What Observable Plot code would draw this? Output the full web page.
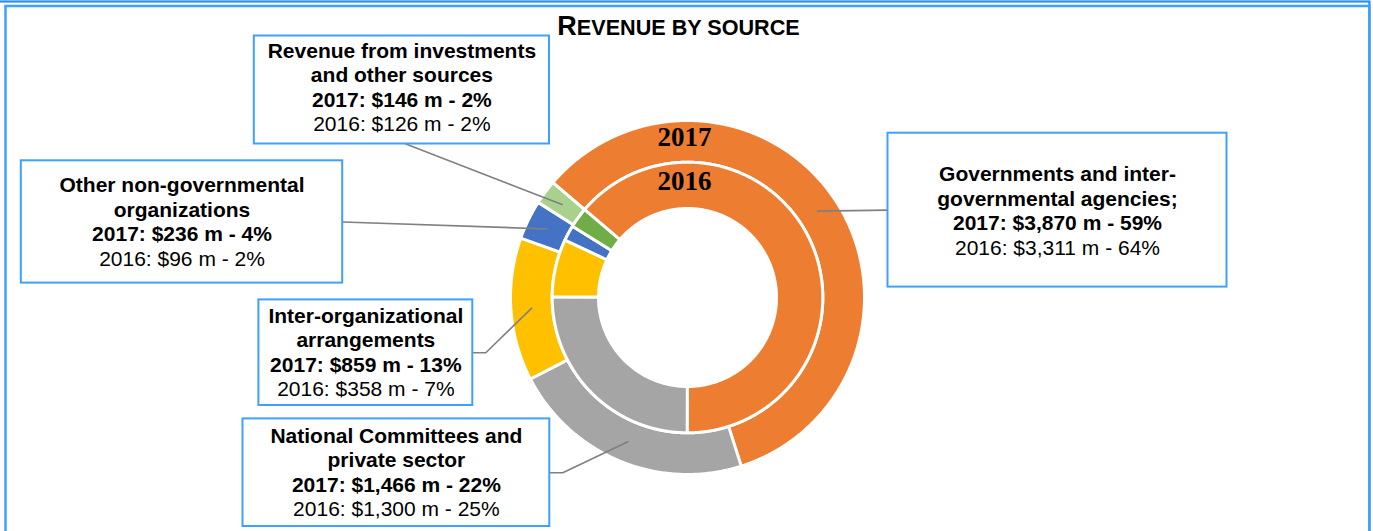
<!DOCTYPE html>
<html>
<head>
<meta charset="utf-8">
<script src="https://cdn.jsdelivr.net/npm/d3@7"></script>
<script src="https://cdn.jsdelivr.net/npm/@observablehq/plot@0.6"></script>
<style>
  body { margin: 0; background: #fff; }
  #wrap { position: relative; width: 1373px; height: 531px; overflow: hidden; }
  #wrap svg { display: block; }
  #title { position: absolute; top: 13px; left: 678.5px; transform: translateX(-50%);
    white-space: nowrap; font-family: "Liberation Sans", Arial, sans-serif; font-weight: bold;
    line-height: 1; color: #000; }
  #title .big { font-size: 27px; }
  #title .sc { font-size: 21.6px; }
</style>
</head>
<body>
<div id="wrap">
  <div id="title"><span class="big">R</span><span class="sc">EVENUE BY SOURCE</span></div>
</div>
<script>
// ---------- DATA ----------
const sources = [
  "Governments and inter-governmental agencies",
  "National Committees and private sector",
  "Inter-organizational arrangements",
  "Other non-governmental organizations",
  "Revenue from investments and other sources"
];
const labelTitles = [
  ["Governments and inter-", "governmental agencies;"],
  ["National Committees and", "private sector"],
  ["Inter-organizational", "arrangements"],
  ["Other non-governmental", "organizations"],
  ["Revenue from investments", "and other sources"]
];
const revenue2017 = [3870, 1466, 859, 236, 146];   // $ millions
const revenue2016 = [3311, 1300, 358, 96, 126];    // $ millions
const pct2017 = [59, 22, 13, 4, 2];
const pct2016 = [64, 25, 7, 2, 2];
const years = ["2017", "2016"];
const colors2017 = ["#ED7D31", "#A5A5A5", "#FFC000", "#4472C4", "#A9D18E"];
const colors2016 = ["#ED7D31", "#A5A5A5", "#FFC000", "#4472C4", "#70AD47"];

// ---------- LAYOUT ----------
const W = 1373, H = 531;
const cx = 687, cy = 297;
const firstSliceAngle = -49.5; // degrees, clockwise from 12 o'clock
const ringRadii = { "2017": [135.3, 177], "2016": [89, 135.3] };
const boxes = [
  { x1: 887.5, y1: 132.7, x2: 1226.5, y2: 286.6, side: "left", elbow: 0, textDy: 1 },
  { x1: 242.5, y1: 418.4, x2: 549.3, y2: 526, side: "right", elbow: 13, textDy: 0 },
  { x1: 258.4, y1: 299.4, x2: 472.3, y2: 405, side: "right", elbow: 13, textDy: 0 },
  { x1: 20.8, y1: 160.3, x2: 342.2, y2: 282.6, side: "right", elbow: 0, textDy: 0.5 },
  { x1: 253.8, y1: 35.5, x2: 549, y2: 143.5, side: "bottom", elbow: 0, textDy: -2, anchorDx: 4 }
];
const lineHeight = 24.5;
const fontSize = 21;

// ---------- GEOMETRY FROM DATA ----------
const deg = Math.PI / 180;
const ringValues = { "2017": revenue2017, "2016": revenue2016 };
const ringColors = { "2017": colors2017, "2016": colors2016 };
const arcPts = [];
const mids = [];
for (const yr of years) {
  const [r0, r1] = ringRadii[yr];
  const a0 = firstSliceAngle * deg;
  const arcs = d3.pie().sort(null).startAngle(a0).endAngle(a0 + 2 * Math.PI)(ringValues[yr]);
  arcs.forEach((a, i) => {
    const id = yr + "-" + i;
    const color = ringColors[yr][i];
    const n = Math.max(2, Math.ceil((a.endAngle - a.startAngle) / (0.5 * deg)));
    for (let k = 0; k <= n; k++) {
      const t = a.startAngle + (a.endAngle - a.startAngle) * k / n;
      arcPts.push({ id, color, x: cx + r1 * Math.sin(t), y: cy - r1 * Math.cos(t) });
    }
    for (let k = n; k >= 0; k--) {
      const t = a.startAngle + (a.endAngle - a.startAngle) * k / n;
      arcPts.push({ id, color, x: cx + r0 * Math.sin(t), y: cy - r0 * Math.cos(t) });
    }
    if (yr === "2017") {
      const m = (a.startAngle + a.endAngle) / 2, rm = (r0 + r1) / 2;
      mids[i] = [cx + rm * Math.sin(m), cy - rm * Math.cos(m)];
    }
  });
}

// leader lines: slice midpoint -> (elbow) -> box edge
const leaderPts = [];
boxes.forEach((b, i) => {
  const ym = (b.y1 + b.y2) / 2, xm = (b.x1 + b.x2) / 2 + (b.anchorDx || 0);
  let anchor;
  if (b.side === "left") anchor = [b.x1, ym];
  else if (b.side === "right") anchor = [b.x2, ym];
  else anchor = [xm, b.y2];
  const pts = [mids[i]];
  if (b.elbow) pts.push([b.side === "right" ? b.x2 + b.elbow : b.x1 - b.elbow, ym]);
  pts.push(anchor);
  pts.forEach(([x, y]) => leaderPts.push({ id: i, x, y }));
});

// label text lines
const fmt = d3.format(",");
const textLines = [];
boxes.forEach((b, i) => {
  const lines = [
    { text: labelTitles[i][0], bold: true },
    { text: labelTitles[i][1], bold: true },
    { text: `2017: $${fmt(revenue2017[i])} m - ${pct2017[i]}%`, bold: true },
    { text: `2016: $${fmt(revenue2016[i])} m - ${pct2016[i]}%`, bold: false }
  ];
  const xm = (b.x1 + b.x2) / 2, ym = (b.y1 + b.y2) / 2 + b.textDy;
  lines.forEach((l, k) => textLines.push({ ...l, x: xm, y: ym + (k - (lines.length - 1) / 2) * lineHeight }));
});

const yearLabels = years.map(yr => {
  const [r0, r1] = ringRadii[yr];
  return { text: yr, x: cx - 3, y: cy - (r0 + r1) / 2 - 4 };
});

const font = "'Liberation Sans', Arial, sans-serif";
const chart = Plot.plot({
  width: W, height: H, margin: 0,
  x: { domain: [0, W], range: [0, W], axis: null },
  y: { domain: [0, H], range: [0, H], axis: null },
  marks: [
    Plot.frame({ stroke: "#2C8CEB", strokeWidth: 2.2, insetTop: 1, insetLeft: -10, insetRight: 4.1, insetBottom: -10 }),
    Plot.frame({ stroke: "#3EA0FF", strokeWidth: 2.5, insetTop: 5.5, insetLeft: 5, insetRight: 4.1, insetBottom: -10 }),
    Plot.line(arcPts, { x: "x", y: "y", z: "id", fill: "color", stroke: "white", strokeWidth: 3, curve: "linear-closed" }),
    Plot.line(leaderPts, { x: "x", y: "y", z: "id", stroke: "#808080", strokeWidth: 1.6 }),
    Plot.rect(boxes, { x1: "x1", y1: "y1", x2: "x2", y2: "y2", fill: "white", stroke: "#3EA0FF", strokeWidth: 2 }),
    Plot.text(textLines.filter(d => d.bold), { x: "x", y: "y", text: "text", fontSize, fontWeight: "bold", fontFamily: font, fill: "black", textAnchor: "middle", lineAnchor: "middle" }),
    Plot.text(textLines.filter(d => !d.bold), { x: "x", y: "y", text: "text", fontSize, fontFamily: font, fill: "black", textAnchor: "middle", lineAnchor: "middle" }),
    Plot.text(yearLabels, { x: "x", y: "y", text: "text", fontSize: 27, fontWeight: "bold", fontFamily: "'Liberation Serif', 'Times New Roman', serif", fill: "black", textAnchor: "middle", lineAnchor: "middle" })
  ]
});
document.getElementById("wrap").appendChild(chart);
</script>
</body>
</html>
